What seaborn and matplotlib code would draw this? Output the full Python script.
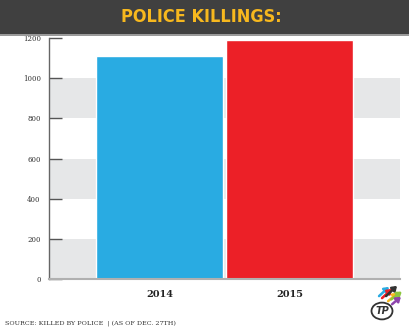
import matplotlib
matplotlib.use("Agg")
import matplotlib.pyplot as plt
from matplotlib.patches import Rectangle, Circle, FancyArrowPatch
import seaborn as sns
import pandas as pd

# Data
years = ["2014", "2015"]
killings = [1110, 1190]
bar_colors = ["#29ABE2", "#EC2027"]
y_ticks = [0, 200, 400, 600, 800, 1000, 1200]

title = "POLICE KILLINGS:"
source = "SOURCE: KILLED BY POLICE  | (AS OF DEC. 27TH)"

df = pd.DataFrame({"year": years, "killings": killings})

sns.set_style("white")
plt.rcParams["font.family"] = ["DejaVu Sans"]

W, H = 410, 328
fig = plt.figure(figsize=(W / 100, H / 100), dpi=100)
fig.patch.set_facecolor("white")

# Header band
fig.patches.append(Rectangle((0, 1 - 34 / H), 1, 34 / H, transform=fig.transFigure,
                             facecolor="#404040", edgecolor="none", zorder=0))
fig.patches.append(Rectangle((0, 1 - 36 / H), 1, 2 / H, transform=fig.transFigure,
                             facecolor="#9a9a9a", edgecolor="none", zorder=0))
fig.text(0.49, 1 - 17.5 / H, title, ha="center", va="center", color="#F7B81E",
         fontsize=13, fontweight="bold", fontstretch="condensed",
         family=["DejaVu Sans"])

ax = fig.add_axes([49 / W, 49 / H, 351 / W, 241 / H])

# Alternating grey bands
for lo in (0, 400, 800):
    ax.axhspan(lo, lo + 200, color="#E6E7E8", zorder=0, lw=0)

sns.barplot(data=df, x="year", y="killings", hue="year", palette=bar_colors,
            width=0.977, saturation=1, legend=False, ax=ax, zorder=2)

ax.set_xlim(-0.85, 1.85)
ax.set_ylim(0, 1200)
ax.set_yticks(y_ticks)
ax.set_yticklabels([str(t) for t in y_ticks], family="DejaVu Serif",
                   fontsize=5, color="#333333")
ax.set_xlabel("")
ax.set_ylabel("")
ax.tick_params(axis="y", direction="in", length=9, width=1, color="#555555", pad=6, left=True)
ax.tick_params(axis="x", length=0, pad=8)
for lbl in ax.get_xticklabels():
    lbl.set_family("DejaVu Serif")
    lbl.set_fontweight("bold")
    lbl.set_fontsize(7)
    lbl.set_color("#222222")

for s in ("top", "right"):
    ax.spines[s].set_visible(False)
ax.spines["left"].set_color("#666666")
ax.spines["left"].set_linewidth(1)
ax.spines["bottom"].set_color("#b0b0b0")
ax.spines["bottom"].set_linewidth(1.5)
ax.set_facecolor("white")

# Source line
fig.text(5 / W, 1 - 323 / H, source, ha="left", va="center", fontsize=4.6,
         family="DejaVu Serif", color="#333333")

# Logo: coloured arrows and a ringed badge
arrow_cols = ["#29ABE2", "#EC2027", "#333333", "#F7B81E", "#8DC63F", "#8E44AD"]
starts = [(377, 298), (380, 300), (384, 298), (386, 303), (389, 301), (390, 306)]
ends = [(391, 285), (394, 287), (399, 284), (400, 291), (404, 290), (403, 295)]
for c, (x0, y0), (x1, y1) in zip(arrow_cols, starts, ends):
    fig.add_artist(FancyArrowPatch(
        (x0 / W, 1 - y0 / H), (x1 / W, 1 - y1 / H), transform=fig.transFigure,
        arrowstyle="-|>,head_length=2.5,head_width=1.8", color=c, lw=1.8,
        mutation_scale=1))
badge = Circle((382 / W, 1 - 311 / H), 10.5 / W, transform=fig.transFigure,
               facecolor="white", edgecolor="#333333", lw=1.3)
fig.patches.append(badge)
fig.text(382 / W, 1 - 311 / H, "TP", ha="center", va="center", fontsize=7,
         fontweight="bold", fontstyle="italic", color="#333333")

fig.savefig("out.png", dpi=100, facecolor="white")
